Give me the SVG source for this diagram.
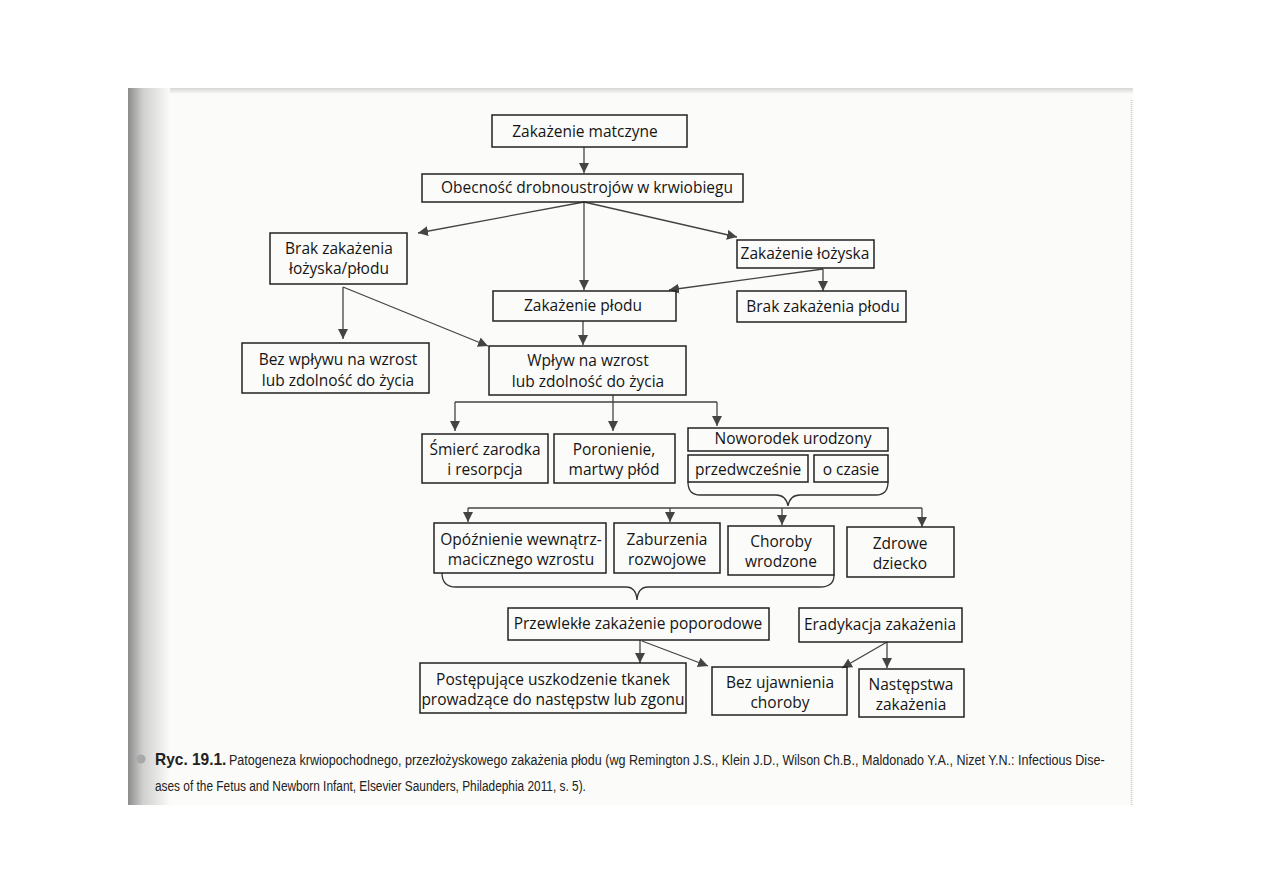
<svg xmlns="http://www.w3.org/2000/svg" width="1263" height="893" viewBox="0 0 1263 893">
<defs>
<linearGradient id="shadow" x1="0" y1="0" x2="1" y2="0">
<stop offset="0" stop-color="#8c8c8c"/>
<stop offset="0.35" stop-color="#cfcfcd"/>
<stop offset="1" stop-color="#fbfbf9"/>
</linearGradient>
<linearGradient id="topedge" x1="0" y1="0" x2="0" y2="1">
<stop offset="0" stop-color="#d6d6d4"/>
<stop offset="1" stop-color="#fbfbf9"/>
</linearGradient>
<marker id="ah" viewBox="0 0 10 10" refX="10" refY="5" markerWidth="10" markerHeight="10" markerUnits="userSpaceOnUse" orient="auto">
<path d="M0,0 L10,5 L0,10 z" fill="#444"/>
</marker>
<style>
.box{fill:none;stroke:#222;stroke-width:1.5}
.t{font-family:'Open Sans','Noto Sans','DejaVu Sans',sans-serif;font-size:15.5px;fill:#151515;text-anchor:middle}
.ln{fill:none;stroke:#444;stroke-width:1.3}
.ar{fill:none;stroke:#444;stroke-width:1.3;marker-end:url(#ah)}
.br{fill:none;stroke:#333;stroke-width:1.3}
.cap{font-family:'Liberation Sans','Open Sans',sans-serif;font-size:15.5px;fill:#222}
.capb{font-family:'Liberation Sans','Open Sans',sans-serif;font-size:16.5px;font-weight:bold;fill:#222}
</style>
</defs>

<rect x="0" y="0" width="1263" height="893" fill="#ffffff"/>
<g id="page">
<rect x="128" y="88" width="1005" height="717" fill="#fbfbf9"/>
<rect x="128" y="88" width="1005" height="6" fill="url(#topedge)"/>
<rect x="128" y="88" width="42" height="717" fill="url(#shadow)"/>
<line x1="1131.5" y1="100" x2="1131.5" y2="805" stroke="#c9c9c9" stroke-width="1.5" stroke-dasharray="1 1"/>
</g>

<g id="connectors">
<path class="ar" d="M584,147 L584,173"/>
<path class="ar" d="M584,202 L418,233"/>
<path class="ar" d="M584,202 L584,290"/>
<path class="ar" d="M584,202 L737,237"/>
<path class="ar" d="M823,269 L669,290"/>
<path class="ar" d="M823,269 L823,291"/>
<path class="ar" d="M343,287 L343,339"/>
<path class="ar" d="M343,287 L488,346"/>
<path class="ar" d="M583,321 L583,345"/>
<path class="ln" d="M613,395 L613,402 M455,402 L717,402"/>
<path class="ar" d="M455,402 L455,431"/>
<path class="ar" d="M613,402 L613,431"/>
<path class="ar" d="M717,402 L717,426"/>
<path class="br" d="M688,482 Q688,495 700,495 L776,495 Q786,495 788,506 Q790,495 800,495 L876,495 Q888,495 888,482"/>
<path class="ln" d="M468,508 L922,508"/>
<path class="ar" d="M468,508 L468,522"/>
<path class="ar" d="M670,508 L670,522"/>
<path class="ar" d="M782,508 L782,525"/>
<path class="ar" d="M922,508 L922,527"/>
<path class="br" d="M442,573 Q442,587 456,587 L626,587 Q636,587 637,600 Q638,587 648,587 L820,587 Q834,587 834,575"/>
<path class="ar" d="M640,640 L640,663"/>
<path class="ar" d="M642,641 L708,666"/>
<path class="ar" d="M887,642 L887,668"/>
<path class="ar" d="M887,642 L842,668"/>
</g>

<g id="n-zakazenie-matczyne">
<rect class="box" x="492" y="115" width="195" height="32"/>
<text class="t" x="585" y="137">Zakażenie matczyne</text>
</g>
<g id="n-obecnosc">
<rect class="box" x="422" y="174" width="321" height="28"/>
<text class="t" x="587" y="193">Obecność drobnoustrojów w krwiobiegu</text>
</g>
<g id="n-brak-zak-lozyska-plodu">
<rect class="box" x="270" y="233" width="137" height="51"/>
<text class="t" x="339" y="254">Brak zakażenia</text>
<text class="t" x="339" y="274">łożyska/płodu</text>
</g>
<g id="n-zak-lozyska">
<rect class="box" x="737" y="240" width="137" height="28"/>
<text class="t" x="805" y="259">Zakażenie łożyska</text>
</g>
<g id="n-zak-plodu">
<rect class="box" x="493" y="291" width="183" height="30"/>
<text class="t" x="583" y="311">Zakażenie płodu</text>
</g>
<g id="n-brak-zak-plodu">
<rect class="box" x="737" y="291" width="169" height="31"/>
<text class="t" x="823" y="312">Brak zakażenia płodu</text>
</g>
<g id="n-bez-wplywu">
<rect class="box" x="242" y="343" width="187" height="50"/>
<text class="t" x="338" y="365">Bez wpływu na wzrost</text>
<text class="t" x="338" y="386">lub zdolność do życia</text>
</g>
<g id="n-wplyw">
<rect class="box" x="489" y="346" width="197" height="49"/>
<text class="t" x="588" y="366">Wpływ na wzrost</text>
<text class="t" x="588" y="387">lub zdolność do życia</text>
</g>
<g id="n-smierc">
<rect class="box" x="422" y="434" width="126" height="49"/>
<text class="t" x="485" y="455">Śmierć zarodka</text>
<text class="t" x="485" y="475">i resorpcja</text>
</g>
<g id="n-poronienie">
<rect class="box" x="554" y="434" width="121" height="49"/>
<text class="t" x="614" y="455">Poronienie,</text>
<text class="t" x="614" y="475">martwy płód</text>
</g>
<g id="n-noworodek">
<rect class="box" x="688" y="428" width="200" height="23"/>
<text class="t" x="793" y="444">Noworodek urodzony</text>
</g>
<g id="n-przedwczesnie">
<rect class="box" x="688" y="455" width="120" height="27"/>
<text class="t" x="748" y="475">przedwcześnie</text>
</g>
<g id="n-o-czasie">
<rect class="box" x="814" y="455" width="74" height="27"/>
<text class="t" x="851" y="475">o czasie</text>
</g>
<g id="n-opoznienie">
<rect class="box" x="434" y="523" width="172" height="50"/>
<text class="t" x="521" y="545">Opóźnienie wewnątrz-</text>
<text class="t" x="521" y="565">macicznego wzrostu</text>
</g>
<g id="n-zaburzenia">
<rect class="box" x="614" y="523" width="106" height="50"/>
<text class="t" x="667" y="545">Zaburzenia</text>
<text class="t" x="667" y="565">rozwojowe</text>
</g>
<g id="n-choroby">
<rect class="box" x="728" y="526" width="106" height="49"/>
<text class="t" x="781" y="547">Choroby</text>
<text class="t" x="781" y="567">wrodzone</text>
</g>
<g id="n-zdrowe">
<rect class="box" x="847" y="527" width="107" height="50"/>
<text class="t" x="900" y="549">Zdrowe</text>
<text class="t" x="900" y="569">dziecko</text>
</g>
<g id="n-przewlekle">
<rect class="box" x="508" y="608" width="261" height="32"/>
<text class="t" x="638" y="629">Przewlekłe zakażenie poporodowe</text>
</g>
<g id="n-eradykacja">
<rect class="box" x="799" y="608" width="163" height="34"/>
<text class="t" x="880" y="630">Eradykacja zakażenia</text>
</g>
<g id="n-postepujace">
<rect class="box" x="420" y="663" width="266" height="50"/>
<text class="t" x="553" y="685">Postępujące uszkodzenie tkanek</text>
<text class="t" x="553" y="705">prowadzące do następstw lub zgonu</text>
</g>
<g id="n-bez-ujawnienia">
<rect class="box" x="712" y="667" width="135" height="48"/>
<text class="t" x="780" y="688">Bez ujawnienia</text>
<text class="t" x="780" y="708">choroby</text>
</g>
<g id="n-nastepstwa">
<rect class="box" x="859" y="669" width="105" height="48"/>
<text class="t" x="911" y="690">Następstwa</text>
<text class="t" x="911" y="710">zakażenia</text>
</g>

<g id="caption">
<circle cx="141" cy="759" r="4.5" fill="#a8a8a8"/>
<text class="capb" transform="translate(155,765) scale(0.85,1)" x="0" y="0" textLength="84" lengthAdjust="spacingAndGlyphs">Ryc. 19.1.</text>
<text class="cap" transform="translate(229,765) scale(0.81,1)" x="0" y="0" textLength="1081" lengthAdjust="spacingAndGlyphs">Patogeneza krwiopochodnego, przezłożyskowego zakażenia płodu (wg Remington J.S., Klein J.D., Wilson Ch.B., Maldonado Y.A., Nizet Y.N.: Infectious Dise-</text>
<text class="cap" transform="translate(155,791) scale(0.81,1)" x="0" y="0" textLength="532" lengthAdjust="spacingAndGlyphs">ases of the Fetus and Newborn Infant, Elsevier Saunders, Philadephia 2011, s. 5).</text>
</g>
</svg>
